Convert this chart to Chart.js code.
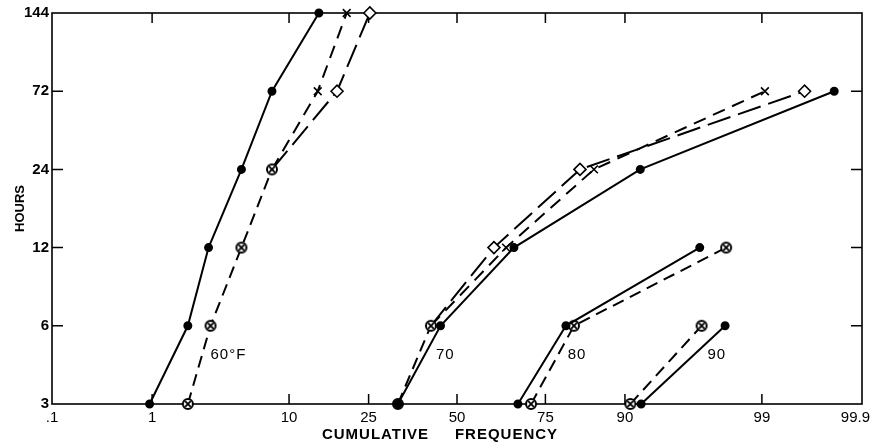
<!DOCTYPE html>
<html>
<head>
<meta charset="utf-8">
<script src="https://cdn.jsdelivr.net/npm/chart.js@4.4.1/dist/chart.umd.min.js"></script>
<style>
  html, body { margin: 0; padding: 0; background: #fff; }
  #wrap { width: 870px; height: 444px; }
</style>
</head>
<body>
<div id="wrap"><canvas id="chart"></canvas></div>
<script>
// hours on the vertical axis (evenly spaced rows)
const hours = [3, 6, 12, 24, 72, 144];
// cumulative frequency ticks (%) on the probability axis
const freqTicks = [0.1, 1, 10, 25, 50, 75, 90, 99, 99.9];
const freqLabels = [".1", "1", "10", "25", "50", "75", "90", "99", "99.9"];

// cumulative frequency (%) per hour, null = no point
const f60Solid   = [0.95, 2.0, 2.9, 5.0, 7.9, 14.6];
const f60Both    = [2.0, 3.0, 5.0, 7.9, null, null];
const f60Cross   = [null, null, null, 7.9, 14.4, 20.0];
const f60Diamond = [null, null, null, 7.9, 18.0, 25.3];

const f70Solid   = [32.6, 45.0, 66.8, 91.9, 99.8, null];
const f70Both    = [32.6, 42.1, null, null, null, null];
const f70Cross   = [null, 42.1, 64.6, 85.2, 99.06, null];
const f70Diamond = [null, 42.1, 61.1, 82.6, 99.6, null];

const f80Solid = [67.9, 79.7, 96.8, null, null, null];
const f80Both  = [71.4, 81.4, 98.0, null, null, null];

const f90Solid = [92.0, 97.96, null, null, null, null];
const f90Both  = [90.7, 96.9, null, null, null, null];

// curve labels: text, frequency (%), row position
const curveLabels = [
  { text: "60°F", freq: 3.0, row: 0.63 },
  { text: "70", freq: 43.6, row: 0.63 },
  { text: "80", freq: 80.1, row: 0.63 },
  { text: "90", freq: 97.2, row: 0.63 },
];

// inverse normal CDF (Acklam) -> probability paper scale
function probit(p) {
  const a = [-39.69683028665376, 220.9460984245205, -275.9285104469687, 138.357751867269, -30.66479806614716, 2.506628277459239];
  const b = [-54.47609879822406, 161.5858368580409, -155.6989798598866, 66.80131188771972, -13.28068155288572];
  const c = [-0.007784894002430293, -0.3223964580411365, -2.400758277161838, -2.549732539343734, 4.374664141464968, 2.938163982698783];
  const d = [0.007784695709041462, 0.3224671290700398, 2.445134137142996, 3.754408661907416];
  const plow = 0.02425;
  let q, r;
  if (p < plow) {
    q = Math.sqrt(-2 * Math.log(p));
    return (((((c[0] * q + c[1]) * q + c[2]) * q + c[3]) * q + c[4]) * q + c[5]) /
      ((((d[0] * q + d[1]) * q + d[2]) * q + d[3]) * q + 1);
  }
  if (p <= 1 - plow) {
    q = p - 0.5;
    r = q * q;
    return (((((a[0] * r + a[1]) * r + a[2]) * r + a[3]) * r + a[4]) * r + a[5]) * q /
      (((((b[0] * r + b[1]) * r + b[2]) * r + b[3]) * r + b[4]) * r + 1);
  }
  q = Math.sqrt(-2 * Math.log(1 - p));
  return -(((((c[0] * q + c[1]) * q + c[2]) * q + c[3]) * q + c[4]) * q + c[5]) /
    ((((d[0] * q + d[1]) * q + d[2]) * q + d[3]) * q + 1);
}

const toPoints = (arr) =>
  arr.map((f, i) => (f == null ? null : { x: probit(f / 100), y: i })).filter((p) => p);

// circled cross marker for coinciding points
const both = document.createElement("canvas");
both.width = 14;
both.height = 14;
(() => {
  const c = both.getContext("2d");
  c.strokeStyle = "#000";
  c.fillStyle = "#fff";
  c.lineWidth = 2;
  c.beginPath();
  c.arc(7, 7, 5, 0, Math.PI * 2);
  c.fill();
  c.stroke();
  c.lineWidth = 1.8;
  c.beginPath();
  c.moveTo(4.2, 4.2); c.lineTo(9.8, 9.8);
  c.moveTo(9.8, 4.2); c.lineTo(4.2, 9.8);
  c.stroke();
})();

const solid = (arr) => ({
  data: toPoints(arr),
  borderColor: "#000",
  backgroundColor: "#000",
  borderWidth: 2,
  pointStyle: "circle",
  pointRadius: 3.5,
  clip: false,
});
const dashedBoth = (arr) => ({
  data: toPoints(arr),
  borderColor: "#000",
  borderWidth: 2,
  borderDash: [12, 7],
  pointStyle: both,
  clip: false,
});
// hide the marker where the point is shared with the circled-cross curve
const hideShared = (arr, shared) => (ctx) => {
  const i = ctx.raw ? ctx.raw.y : 0;
  return shared[i] != null ? 0 : ctx.dataset._r;
};
const cross = (arr, shared) => ({
  data: toPoints(arr),
  borderColor: "#000",
  backgroundColor: "#000",
  borderWidth: 2,
  borderDash: [13, 8],
  pointStyle: "crossRot",
  _r: 5.5,
  pointRadius: hideShared(arr, shared),
  pointBorderWidth: 1.6,
  clip: false,
});
const diamond = (arr, shared) => ({
  data: toPoints(arr),
  borderColor: "#000",
  backgroundColor: "#fff",
  borderWidth: 2,
  borderDash: [24, 8],
  pointStyle: "rectRot",
  _r: 6,
  pointRadius: hideShared(arr, shared),
  pointBorderWidth: 1.6,
  clip: false,
});

// frame with inward ticks, tick labels and titles
const frame = {
  id: "frame",
  beforeDatasetsDraw(chart) {
    const { ctx, chartArea: a, scales } = chart;
    ctx.save();
    ctx.strokeStyle = "#000";
    ctx.lineWidth = 1.6;
    ctx.strokeRect(a.left, a.top, a.right - a.left, a.bottom - a.top);
    ctx.lineWidth = 1.5;
    ctx.beginPath();
    freqTicks.slice(1, -1).forEach((f) => {
      const x = scales.x.getPixelForValue(probit(f / 100));
      ctx.moveTo(x, a.bottom); ctx.lineTo(x, a.bottom - 10);
      ctx.moveTo(x, a.top); ctx.lineTo(x, a.top + 10);
    });
    hours.slice(1, -1).forEach((h, i) => {
      const y = scales.y.getPixelForValue(i + 1);
      ctx.moveTo(a.left, y); ctx.lineTo(a.left + 11, y);
      ctx.moveTo(a.right, y); ctx.lineTo(a.right - 11, y);
    });
    ctx.stroke();
    ctx.restore();
  },
  afterDraw(chart) {
    const { ctx, chartArea: a, scales } = chart;
    ctx.save();
    ctx.fillStyle = "#000";
    ctx.font = "bold 15px 'Liberation Sans', Arial, sans-serif";
    ctx.textAlign = "right";
    ctx.textBaseline = "middle";
    hours.forEach((h, i) => {
      ctx.fillText(String(h), a.left - 3, scales.y.getPixelForValue(i));
    });
    ctx.font = "15px 'Liberation Sans', Arial, sans-serif";
    ctx.textBaseline = "top";
    freqTicks.forEach((f, i) => {
      let x = scales.x.getPixelForValue(probit(f / 100));
      ctx.textAlign = i === freqTicks.length - 1 ? "right" : "center";
      if (i === freqTicks.length - 1) x = chart.width;
      ctx.fillText(freqLabels[i], x, a.bottom + 6);
    });
    ctx.font = "15px 'Liberation Sans', Arial, sans-serif";
    ctx.textAlign = "left";
    ctx.textBaseline = "middle";
    ctx.letterSpacing = "1px";
    curveLabels.forEach((l) => {
      ctx.fillText(l.text, scales.x.getPixelForValue(probit(l.freq / 100)), scales.y.getPixelForValue(l.row));
    });
    ctx.font = "bold 15px 'Liberation Sans', Arial, sans-serif";
    ctx.textAlign = "center";
    ctx.fillText("CUMULATIVE     FREQUENCY", (a.left + a.right) / 2 - 17, a.bottom + 31);
    ctx.font = "bold 13px 'Liberation Sans', Arial, sans-serif";
    ctx.letterSpacing = "0px";
    ctx.translate(20, (a.top + a.bottom) / 2);
    ctx.rotate(-Math.PI / 2);
    ctx.fillText("HOURS", 0, 0);
    ctx.restore();
  },
};

new Chart(document.getElementById("chart"), {
  type: "scatter",
  data: {
    datasets: [
      solid(f60Solid), dashedBoth(f60Both), cross(f60Cross, f60Both), diamond(f60Diamond, f60Both),
      solid(f70Solid), dashedBoth(f70Both), cross(f70Cross, f70Both), diamond(f70Diamond, f70Both),
      solid(f80Solid), dashedBoth(f80Both),
      solid(f90Solid), dashedBoth(f90Both),
    ],
  },
  options: {
    responsive: true,
    maintainAspectRatio: false,
    animation: false,
    showLine: true,
    layout: { padding: { left: 52, right: 8, top: 13, bottom: 40 } },
    scales: {
      x: { type: "linear", display: false, min: probit(0.001), max: probit(0.999) },
      y: { type: "linear", display: false, min: 0, max: hours.length - 1 },
    },
    plugins: {
      legend: { display: false },
      tooltip: { enabled: false },
    },
  },
  plugins: [frame],
});
</script>
</body>
</html>
